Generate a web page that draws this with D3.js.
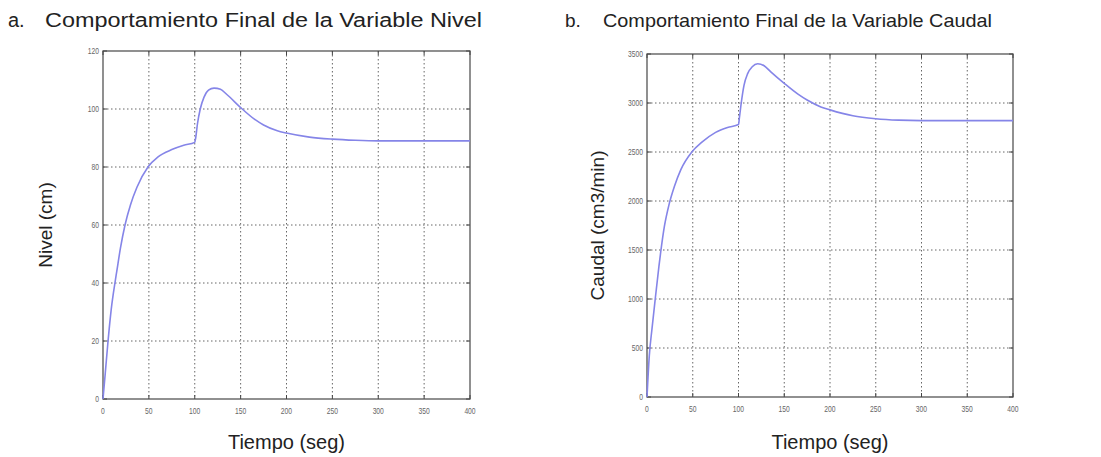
<!DOCTYPE html>
<html>
<head>
<meta charset="utf-8">
<script src="https://cdn.jsdelivr.net/npm/d3@7"></script>
<style>
  body { margin: 0; background: #fff; }
  text { font-family: "Liberation Sans", Arial, sans-serif; }
</style>
</head>
<body>
<svg id="chart" width="1101" height="457"></svg>
<script>
// ---- data ----
var tiempo = [0, 2.5, 5.5, 9, 13, 15, 19, 24, 30, 37, 49, 60, 75, 88, 100, 101, 103, 106, 110, 115, 121, 128, 135, 150, 165, 175, 190, 200, 225, 250, 275, 300, 350, 400];
var nivel  = [0, 9, 20, 31, 40, 44, 52, 60, 67, 73, 80, 83.5, 86, 87.5, 88.5, 90, 95, 100, 104, 106.5, 107.2, 106.8, 105, 100.5, 96.5, 94.5, 92.5, 91.7, 90.3, 89.6, 89.2, 89, 89, 89];
var caudal = [0, 420, 700, 1000, 1330, 1480, 1740, 1960, 2150, 2320, 2500, 2600, 2700, 2750, 2780, 2850, 3000, 3180, 3300, 3370, 3400, 3380, 3320, 3200, 3090, 3030, 2960, 2930, 2870, 2840, 2825, 2820, 2820, 2820];

var xTicks = [0, 50, 100, 150, 200, 250, 300, 350, 400];
var nivelTicks = [0, 20, 40, 60, 80, 100, 120];
var caudalTicks = [0, 500, 1000, 1500, 2000, 2500, 3000, 3500];

var svg = d3.select("#chart");

function panel(opt) {
  var x = d3.scaleLinear().domain([0, 400]).range([opt.left, opt.right]);
  var y = d3.scaleLinear().domain([0, opt.ymax]).range([opt.bottom, opt.top]);
  var g = svg.append("g");

  // grid
  g.selectAll(".gx").data(xTicks.slice(1, -1)).enter().append("line")
    .attr("x1", x).attr("x2", x).attr("y1", opt.top).attr("y2", opt.bottom)
    .attr("stroke", "#666").attr("stroke-width", 1).attr("stroke-dasharray", "1.5,2.5");
  g.selectAll(".gy").data(opt.yTicks.slice(1, -1)).enter().append("line")
    .attr("y1", y).attr("y2", y).attr("x1", opt.left).attr("x2", opt.right)
    .attr("stroke", "#666").attr("stroke-width", 1).attr("stroke-dasharray", "1.5,2.5");

  // box
  g.append("rect")
    .attr("x", opt.left).attr("y", opt.top)
    .attr("width", opt.right - opt.left).attr("height", opt.bottom - opt.top)
    .attr("fill", "none").attr("stroke", "#555").attr("stroke-width", 1.3);

  // inward ticks
  g.selectAll(".tb").data(xTicks).enter().append("line")
    .attr("x1", x).attr("x2", x).attr("y1", opt.bottom).attr("y2", opt.bottom - 4)
    .attr("stroke", "#444");
  g.selectAll(".tt").data(xTicks).enter().append("line")
    .attr("x1", x).attr("x2", x).attr("y1", opt.top).attr("y2", opt.top + 4)
    .attr("stroke", "#444");
  g.selectAll(".tl").data(opt.yTicks).enter().append("line")
    .attr("y1", y).attr("y2", y).attr("x1", opt.left).attr("x2", opt.left + 4)
    .attr("stroke", "#444");
  g.selectAll(".tr").data(opt.yTicks).enter().append("line")
    .attr("y1", y).attr("y2", y).attr("x1", opt.right).attr("x2", opt.right - 4)
    .attr("stroke", "#444");

  // tick labels
  g.selectAll(".lx").data(xTicks).enter().append("text")
    .attr("x", x).attr("y", opt.bottom + 15)
    .attr("text-anchor", "middle").attr("font-size", 9).attr("fill", "#666")
    .attr("transform", function (d) { return "translate(" + x(d) + ",0) scale(0.75,1) translate(" + (-x(d)) + ",0)"; })
    .text(function (d) { return d; });
  g.selectAll(".ly").data(opt.yTicks).enter().append("text")
    .attr("x", opt.left - 4).attr("y", function (d) { return y(d) + 3; })
    .attr("text-anchor", "end").attr("font-size", 9).attr("fill", "#666")
    .attr("transform", "translate(" + (opt.left - 4) + ",0) scale(0.75,1) translate(" + (-(opt.left - 4)) + ",0)")
    .text(function (d) { return d; });

  // curve
  var line = d3.line()
    .x(function (d, i) { return x(tiempo[i]); })
    .y(function (d) { return y(d); })
    .curve(d3.curveMonotoneX);
  g.append("path").datum(opt.values)
    .attr("d", line)
    .attr("fill", "none").attr("stroke", "#8585e8").attr("stroke-width", 1.6);

  // axis labels
  g.append("text")
    .attr("x", (opt.left + opt.right) / 2).attr("y", opt.xlabY)
    .attr("text-anchor", "middle").attr("font-size", 20).attr("fill", "#222")
    .text("Tiempo (seg)");
  g.append("text")
    .attr("transform", "translate(" + opt.ylabX + "," + ((opt.top + opt.bottom) / 2) + ") rotate(-90)")
    .attr("text-anchor", "middle").attr("font-size", 19).attr("fill", "#222")
    .text(opt.ylabel);

  // title
  g.append("text").attr("x", opt.tx).attr("y", 27).attr("font-size", opt.tsize).attr("fill", "#222")
    .text(opt.letter);
  g.append("text").attr("x", opt.tx2).attr("y", 27).attr("font-size", opt.tsize).attr("fill", "#222")
    .attr("textLength", opt.tlen).attr("lengthAdjust", "spacingAndGlyphs")
    .text(opt.title);
}

panel({
  left: 103, right: 470, top: 51, bottom: 399, ymax: 120,
  yTicks: nivelTicks, values: nivel, ylabel: "Nivel (cm)", ylabX: 52, xlabY: 449,
  letter: "a.", title: "Comportamiento Final de la Variable Nivel",
  tx: 8, tx2: 45, tlen: 437, tsize: 20
});
panel({
  left: 647, right: 1013, top: 54, bottom: 397, ymax: 3500,
  yTicks: caudalTicks, values: caudal, ylabel: "Caudal (cm3/min)", ylabX: 604, xlabY: 449,
  letter: "b.", title: "Comportamiento Final de la Variable Caudal",
  tx: 565, tx2: 603, tlen: 389, tsize: 19
});
</script>
</body>
</html>
